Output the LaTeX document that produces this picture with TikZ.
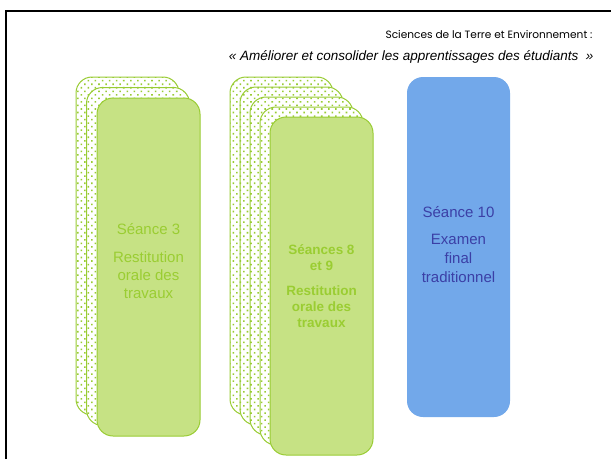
\documentclass[tikz,border=0pt]{standalone}
\usepackage{fontspec}
\setmainfont{Liberation Sans}
\newfontfamily\gothicfont{Poppins}
\usetikzlibrary{patterns.meta}
\definecolor{leaf}{HTML}{99CC33}
\definecolor{leaffill}{HTML}{C6E284}
\definecolor{leaftext}{HTML}{9ACD32}
\definecolor{skyfill}{HTML}{72A8EA}
\definecolor{skytext}{HTML}{3B3FA6}
\tikzset{
	card/.style={rectangle,rounded corners=16pt,minimum width=103pt,minimum height=338pt,inner sep=0pt,align=center},
	backcard/.style={card,draw=leaf,line width=1pt,preaction={fill=white},pattern={Dots[distance=5pt,angle=45,radius=1.1pt]},pattern color=leaf},
	frontcard/.style={card,draw=leaf,line width=1pt,fill=leaffill,text=leaftext},
	examcard/.style={card,minimum height=340pt,fill=skyfill,text=skytext,font=\fontsize{15}{19}\selectfont}
}

\begin{document}
\begin{tikzpicture}[x=1pt,y=-1pt]
			\useasboundingbox (0,0) rectangle (611,459);
			\draw[line width=2pt] (6,459) -- (6,11) -- (611,11);
			\node[anchor=east,font=\gothicfont\fontsize{10.6}{12}\selectfont] (subject) at (596,35) {Sciences de la Terre et Environnement :};
			\node[anchor=east,font=\itshape\fontsize{13.5}{16}\selectfont] (aim) at (597,57) {« Améliorer et consolider les apprentissages des étudiants~~»};
			\foreach \k in {0,1}
			\node[backcard] (oral3-\k) at (127.5+10.5*\k,246+10.5*\k) {};
			\node[frontcard,font=\fontsize{15}{18}\selectfont] (oral3) at (148.5,267) {Séance 3\\[10pt]Restitution\\orale des\\travaux\\[-6pt]};
			\foreach \k in {0,1,2,3}
			\node[backcard] (oral89-\k) at (281.5+10*\k,246+10*\k) {};
			\node[frontcard,font=\bfseries\fontsize{13.5}{16}\selectfont] (oral89) at (321.5,286) {Séances 8\\et 9\\[9pt]Restitution\\orale des\\travaux};
			\node[examcard] (exam) at (458.5,247) {Séance 10\\[8pt]Examen\\final\\traditionnel\\[-13pt]};
\end{tikzpicture}
\end{document}
